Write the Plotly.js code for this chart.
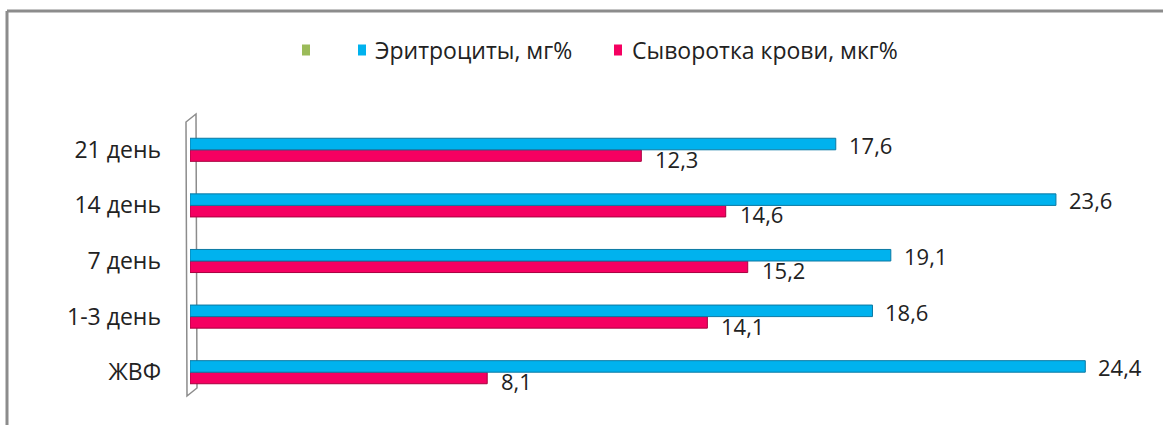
<!DOCTYPE html>
<html>
<head>
<meta charset="utf-8">
<script src="https://cdn.plot.ly/plotly-3.0.1.min.js"></script>
<style>html,body{margin:0;padding:0;background:#fff;}#chart{width:1163px;height:425px;}</style>
</head>
<body>
<div id="chart"></div>
<script>
// Data
var categories = ['ЖВФ', '1-3 день', '7 день', '14 день', '21 день'];
var erythrocytes = [24.4, 18.6, 19.1, 23.6, 17.6];   // Эритроциты, мг%
var serum = [8.1, 14.1, 15.2, 14.6, 12.3];           // Сыворотка крови, мкг%
var seriesNames = ['', 'Эритроциты, мг%', 'Сыворотка крови, мкг%'];
var seriesColors = ['#9BBB59', '#00B2EE', '#F50061'];

var FONT = 'Open Sans, DejaVu Sans, sans-serif';
var TXT = '#222222';
function fmt(v) { return v.toFixed(1).replace('.', ','); }

// geometry (pixels) for decorations
var W = 1163, Hh = 425, ML = 190, MR = 19, MT = 122, MB = 25;
var PW = W - ML - MR, PH = Hh - MT - MB;
function px(x) { return (x - ML) / PW; }
function py(y) { return (Hh - MB - y) / PH; }

var traces = [
  { type: 'bar', orientation: 'h', name: seriesNames[2], y: categories, x: serum,
    marker: { color: seriesColors[2], line: { color: '#A8003F', width: 1 } } },
  { type: 'bar', orientation: 'h', name: seriesNames[1], y: categories, x: erythrocytes,
    marker: { color: seriesColors[1], line: { color: '#0B79A3', width: 1 } } }
];

var annotations = [];
for (var i = 0; i < categories.length; i++) {
  annotations.push({ x: erythrocytes[i], y: categories[i], xref: 'x', yref: 'y', text: fmt(erythrocytes[i]),
    showarrow: false, xanchor: 'left', yanchor: 'middle', xshift: 11, yshift: 5,
    font: { family: FONT, size: 22, color: TXT } });
  annotations.push({ x: serum[i], y: categories[i], xref: 'x', yref: 'y', text: fmt(serum[i]),
    showarrow: false, xanchor: 'left', yanchor: 'middle', xshift: 12, yshift: -9,
    font: { family: FONT, size: 22, color: TXT } });
}

var wallColor = '#8C8C8C';
var shapes = [
  // outer chart border (top & left)
  { type: 'line', xref: 'paper', yref: 'paper', x0: px(7), x1: px(1170), y0: py(11), y1: py(11),
    line: { color: '#8C8C8C', width: 3 }, layer: 'below' },
  { type: 'line', xref: 'paper', yref: 'paper', x0: px(7), x1: px(7), y0: py(11), y1: py(430),
    line: { color: '#8C8C8C', width: 3 }, layer: 'below' },
  // 3D side wall
  { type: 'path', xref: 'paper', yref: 'paper',
    path: 'M ' + px(186) + ',' + py(122) + ' L ' + px(196) + ',' + py(114) +
          ' L ' + px(197) + ',' + py(388) + ' L ' + px(187) + ',' + py(396) + ' Z',
    line: { color: wallColor, width: 1.5 }, fillcolor: 'rgba(255,255,255,0)', layer: 'below' }
];

// legend (drawn manually to match the original spacing)
var legendSquares = [302, 358, 614];
var legendTextX = [318, 373, 630];
var legendY = 50;
for (var k = 0; k < seriesNames.length; k++) {
  shapes.push({ type: 'rect', xref: 'paper', yref: 'paper',
    x0: px(legendSquares[k]), x1: px(legendSquares[k] + 8), y0: py(legendY + 5.5), y1: py(legendY - 5.5),
    fillcolor: seriesColors[k], line: { width: 0 } });
  if (seriesNames[k]) {
    annotations.push({ xref: 'paper', yref: 'paper', x: px(legendTextX[k]), y: py(legendY),
      text: seriesNames[k], showarrow: false, xanchor: 'left', yanchor: 'middle',
      font: { family: FONT, size: 23, color: TXT } });
  }
}

var layout = {
  width: W, height: Hh,
  margin: { l: ML, r: MR, t: MT, b: MB, pad: 0 },
  paper_bgcolor: '#ffffff', plot_bgcolor: 'rgba(0,0,0,0)',
  barmode: 'group', bargap: 0.585, bargroupgap: 0,
  showlegend: false,
  xaxis: { range: [0, 26], visible: false, fixedrange: true },
  yaxis: { type: 'category', categoryorder: 'array', categoryarray: categories,
    showgrid: false, zeroline: false, showline: false, ticks: '',
    ticklabelstandoff: 28, tickfont: { family: FONT, size: 23, color: TXT }, fixedrange: true },
  annotations: annotations,
  shapes: shapes,
  font: { family: FONT }
};

Plotly.newPlot('chart', traces, layout, { displayModeBar: false, staticPlot: true });
</script>
</body>
</html>
